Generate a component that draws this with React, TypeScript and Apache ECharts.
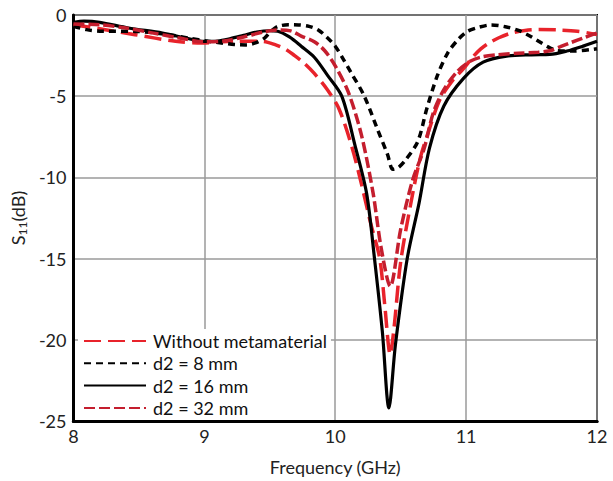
import React, { useEffect, useRef } from "react";
import * as echarts from "echarts";

// Frequency (GHz) / S11 (dB) samples
const noMetaF = [8.0, 8.2, 8.47, 8.78, 8.98, 9.23, 9.44, 9.54, 9.62, 9.69, 9.76, 9.84, 9.94, 10.03, 10.13, 10.2, 10.27, 10.34, 10.38, 10.42, 10.45, 10.5, 10.58, 10.65, 10.72, 10.8, 10.9, 10.98, 11.05, 11.11, 11.18, 11.25, 11.35, 11.45, 11.55, 11.7, 11.85, 12.0];
const noMetaV = [-0.6, -0.85, -1.21, -1.62, -1.72, -1.62, -1.62, -1.82, -2.1, -2.5, -2.95, -3.6, -4.6, -5.8, -8.2, -10.4, -12.8, -15.0, -18.0, -20.9, -19.2, -15.2, -11.5, -8.8, -7.0, -5.2, -4.0, -3.3, -2.6, -2.1, -1.7, -1.4, -1.1, -0.95, -0.9, -0.92, -1.0, -1.2];

const d8F = [8.0, 8.1, 8.22, 8.47, 8.73, 8.88, 9.03, 9.13, 9.23, 9.32, 9.39, 9.46, 9.51, 9.56, 9.64, 9.72, 9.8, 9.87, 9.94, 10.0, 10.06, 10.12, 10.22, 10.32, 10.4, 10.44, 10.48, 10.53, 10.63, 10.7, 10.78, 10.86, 10.94, 11.01, 11.1, 11.19, 11.3, 11.4, 11.49, 11.57, 11.64, 11.7, 11.82, 12.0];
const d8V = [-0.7, -0.9, -1.0, -1.01, -1.21, -1.42, -1.62, -1.72, -1.82, -1.84, -1.72, -1.42, -1.0, -0.71, -0.6, -0.61, -0.7, -0.92, -1.4, -1.92, -2.7, -3.54, -4.96, -6.98, -8.6, -9.5, -9.4, -9.0, -7.8, -5.76, -3.74, -2.33, -1.5, -1.01, -0.75, -0.61, -0.72, -0.95, -1.31, -1.7, -2.02, -2.2, -2.22, -2.08];

const d16F = [8.0, 8.08, 8.2, 8.42, 8.68, 8.85, 9.0, 9.1, 9.2, 9.3, 9.4, 9.5, 9.56, 9.65, 9.74, 9.84, 9.94, 10.05, 10.15, 10.24, 10.3, 10.36, 10.41, 10.46, 10.55, 10.64, 10.72, 10.83, 10.98, 11.13, 11.31, 11.5, 11.64, 11.77, 11.9, 12.0];
const d16V = [-0.45, -0.38, -0.45, -0.8, -1.11, -1.4, -1.62, -1.6, -1.45, -1.25, -1.05, -0.97, -1.0, -1.35, -1.92, -2.6, -3.7, -5.0, -8.0, -11.0, -15.0, -19.5, -24.2, -20.3, -15.0, -11.6, -8.2, -5.6, -3.9, -2.9, -2.53, -2.45, -2.43, -2.22, -1.9, -1.62];

const d32F = [8.0, 8.2, 8.4, 8.6, 8.8, 9.0, 9.15, 9.3, 9.45, 9.55, 9.66, 9.74, 9.84, 9.92, 10.0, 10.1, 10.2, 10.29, 10.35, 10.42, 10.5, 10.59, 10.68, 10.75, 10.83, 10.93, 11.02, 11.11, 11.24, 11.4, 11.55, 11.64, 11.72, 11.8, 11.9, 12.0];
const d32V = [-0.55, -0.6, -0.8, -1.1, -1.4, -1.65, -1.6, -1.35, -1.05, -0.92, -0.98, -1.3, -1.65, -2.2, -3.13, -4.75, -7.38, -11.0, -14.3, -16.7, -13.2, -10.2, -8.2, -6.0, -4.6, -3.5, -2.9, -2.6, -2.45, -2.35, -2.3, -2.2, -1.95, -1.7, -1.4, -1.1];

const seriesNames = ["Without metamaterial", "d2 = 8 mm", "d2 = 16 mm", "d2 = 32 mm"];
const xTicks = [8, 12, 1];
const yTicks = [-25, 0, 5];

const pair = (f: number[], v: number[]) => f.map((x, i) => [x, v[i]]);

const FONT = "Lato";
const FS = 18;

export default function App() {
  const ref = useRef<HTMLDivElement>(null);
  useEffect(() => {
    if (!ref.current) return;
    const chart = echarts.init(ref.current, null, { renderer: "svg" });
    const mk = (name: string, data: number[][], color: string, width: number, type: any, z: number) => ({
      name,
      type: "line",
      data,
      smooth: 0.3,
      showSymbol: false,
      symbol: "none",
      z,
      lineStyle: { color, width, type, cap: "butt" },
      itemStyle: { color },
    });
    chart.setOption({
      animation: false,
      backgroundColor: "#fff",
      textStyle: { fontFamily: FONT },
      grid: { left: 71, right: 16, top: 15, bottom: 54, show: true, borderColor: "#000", borderWidth: 2, backgroundColor: "transparent" },
      xAxis: [
        {
          type: "value",
          min: xTicks[0],
          max: xTicks[1],
          interval: xTicks[2],
          axisLine: { show: true, onZero: false, lineStyle: { color: "#000", width: 3 } },
          axisTick: { show: false },
          splitLine: { show: true, lineStyle: { color: "#9a9a9a", width: 1.5 } },
          axisLabel: { color: "#222", fontSize: FS, fontFamily: FONT, margin: 6 },
          name: "Frequency (GHz)",
          nameLocation: "middle",
          nameGap: 37,
          nameTextStyle: { color: "#222", fontSize: FS, fontFamily: FONT },
        },
        {
          type: "value",
          position: "bottom",
          offset: 0,
          min: xTicks[0],
          max: xTicks[1],
          interval: xTicks[2],
          z: 20,
          axisLine: { show: true, onZero: false, lineStyle: { color: "#000", width: 3 } },
          axisTick: { show: false },
          splitLine: { show: false },
          axisLabel: { show: false },
        },
      ],
      yAxis: {
        type: "value",
        min: yTicks[0],
        max: yTicks[1],
        interval: yTicks[2],
        axisLine: { show: true, onZero: false, lineStyle: { color: "#000", width: 3 } },
        axisTick: { show: false },
        splitLine: { show: true, lineStyle: { color: "#9a9a9a", width: 1.5 } },
        axisLabel: { color: "#222", fontSize: FS, fontFamily: FONT, margin: 7 },
        name: "{s|S}{sub|11}{s|(dB)}",
        nameLocation: "middle",
        nameGap: 30,
        nameRotate: 90,
        nameTextStyle: {
          color: "#222",
          fontFamily: FONT,
          rich: {
            s: { fontSize: FS, fontFamily: FONT, color: "#222", lineHeight: 20, verticalAlign: "middle" },
            sub: { fontSize: 12, fontFamily: FONT, color: "#222", lineHeight: 20, verticalAlign: "bottom", padding: [8, 0, 0, 0] },
          },
        },
      },
      legend: {
        show: true,
        orient: "vertical",
        left: 78,
        top: 329,
        padding: [3, 4, 5, 5],
        backgroundColor: "#fff",
        itemWidth: 62,
        itemHeight: 14,
        itemGap: 4.3,
        itemStyle: { opacity: 0 },
        textStyle: { color: "#111", fontSize: FS, fontFamily: FONT, padding: [0, 0, 0, 2] },
        data: seriesNames,
      },
      series: [
        mk(seriesNames[0], pair(noMetaF, noMetaV), "#e8232b", 3.5, [17, 7], 3),
        mk(seriesNames[1], pair(d8F, d8V), "#000", 3.5, [7, 5], 4),
        mk(seriesNames[2], pair(d16F, d16V), "#000", 3.2, "solid", 5),
        mk(seriesNames[3], pair(d32F, d32V), "#c41e2e", 3.5, [11, 4], 6),
      ],
    });
    return () => chart.dispose();
  }, []);
  return <div ref={ref} style={{ width: 613, height: 481, position: "absolute", left: 0, top: 0 }} />;
}
